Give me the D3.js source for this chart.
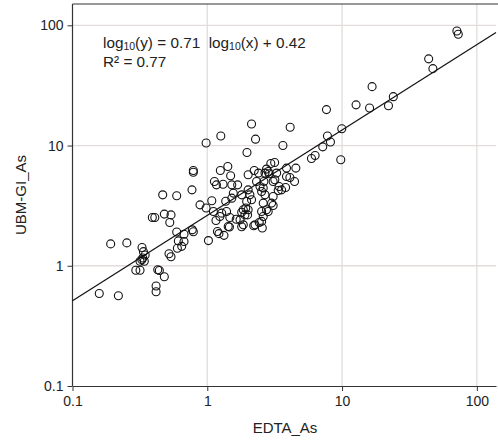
<!DOCTYPE html>
<html><head><meta charset="utf-8">
<script src="https://cdn.jsdelivr.net/npm/d3@7"></script>
<style>
body{margin:0;background:#fff;}
svg{display:block;font-family:"Liberation Sans",Arial,sans-serif;}
</style></head>
<body><svg id="c" width="498" height="441"></svg>
<script>
const edtaAs = [71.1,72.8,43.9,47.2,16.7,24.0,22.1,16.0,12.7,7.66,4.12,9.95,7.79,8.20,7.19,3.64,6.31,5.93,9.78,3.16,2.96,3.87,4.54,4.10,4.44,3.81,3.41,3.36,
2.13,1.26,2.28,0.98,1.97,0.788,0.788,1.42,1.25,1.49,1.13,1.31,1.68,1.52,2.01,2.23,2.40,2.75,2.68,2.83,3.27,3.17,3.87,2.88,3.08,
0.467,0.593,0.770,2.32,2.46,2.60,2.53,3.56,2.01,2.07,1.80,1.56,1.52,2.68,3.08,3.00,1.96,2.13,0.883,0.98,1.08,1.37,
0.391,0.408,0.480,0.538,0.527,1.11,1.28,1.39,1.24,1.16,1.47,1.64,1.80,1.99,1.93,1.85,2.01,1.90,2.60,2.75,2.53,2.83,2.60,2.53,3.08,
2.21,2.56,2.43,1.80,1.46,1.75,1.19,1.22,1.33,1.02,0.593,0.672,0.774,0.788,0.610,0.672,0.600,0.646,0.520,0.538,
0.192,0.253,0.328,0.336,0.346,0.332,0.327,0.341,0.317,0.295,0.317,0.429,0.441,0.480,0.417,0.417,0.158,0.219,2.26,1.43,1.85,1.17,2.63];
const ubmAs = [89.8,84.3,52.6,43.6,30.9,25.5,21.4,20.5,21.8,19.9,14.2,13.8,12.0,10.7,9.75,10.0,8.26,7.80,7.61,7.22,7.08,6.49,6.49,5.42,5.02,4.48,4.56,4.23,
15.1,12.0,11.3,10.5,8.75,6.20,5.99,6.69,6.20,5.60,5.02,4.76,4.71,4.71,5.71,6.20,5.90,6.37,5.90,6.08,5.90,5.19,5.53,5.82,5.02,
3.89,3.82,4.28,5.02,4.56,4.43,4.15,4.28,4.28,3.89,3.89,4.02,3.65,3.89,3.77,3.32,3.42,3.54,3.21,3.02,3.47,3.44,
2.52,2.52,2.69,2.65,2.29,2.83,2.74,2.83,2.57,2.38,2.52,2.44,2.79,2.65,3.02,2.92,2.92,2.65,3.32,2.92,2.83,2.83,2.57,2.34,3.17,
2.15,2.06,2.29,2.11,2.10,2.41,1.93,1.85,1.79,1.62,1.91,1.83,1.99,1.92,1.61,1.59,1.40,1.45,1.26,1.19,
1.52,1.55,1.42,1.31,1.23,1.16,1.12,1.09,1.09,0.918,0.918,0.926,0.914,0.810,0.678,0.608,0.588,0.563,2.19,2.12,2.19,4.71,5.02];
const tickValues = [0.1, 1, 10, 100];
const tickLabels = ["0.1", "1", "10", "100"];
const fitSlope = 0.71, fitIntercept = 0.42, rSquared = 0.77;
const xTitle = "EDTA_As", yTitle = "UBM-GI_As";

const svg = d3.select("#c");
const L = 72.5, R = 496, T = 4, B = 386;
const x = d3.scaleLog().domain([0.1, 138.7]).range([L, R]);
const y = d3.scaleLog().domain([0.1, 150.4]).range([B, T]);
const gridColor = "#e2dcda", axisColor = "#333";

// grid
svg.append("g").selectAll("line").data(tickValues.slice(1)).join("line")
  .attr("x1", d => x(d)).attr("x2", d => x(d)).attr("y1", T).attr("y2", B)
  .attr("stroke", gridColor).attr("stroke-width", 1.3);
svg.append("g").selectAll("line").data(tickValues.slice(1)).join("line")
  .attr("y1", d => y(d)).attr("y2", d => y(d)).attr("x1", L).attr("x2", R)
  .attr("stroke", gridColor).attr("stroke-width", 1.3);

// top border
svg.append("line").attr("x1", L).attr("x2", 498).attr("y1", T).attr("y2", T)
  .attr("stroke", axisColor).attr("stroke-width", 1.2);

const fmt = d => tickLabels[tickValues.indexOf(d)];
const xa = svg.append("g").attr("transform", `translate(0,${B})`)
  .call(d3.axisBottom(x).tickValues(tickValues).tickFormat(fmt).tickSize(5).tickSizeOuter(0));
const ya = svg.append("g").attr("transform", `translate(${L},0)`)
  .call(d3.axisLeft(y).tickValues(tickValues).tickFormat(fmt).tickSize(5).tickSizeOuter(0));
[xa, ya].forEach(a => {
  a.select(".domain").attr("stroke", axisColor).attr("stroke-width", 1.2);
  a.selectAll(".tick line").attr("stroke", axisColor);
  a.selectAll("text").attr("font-size", 14).attr("fill", "#222").attr("font-family", "Liberation Sans, Arial, sans-serif");
});
xa.selectAll("text").attr("dy", "0.95em").attr("y", 7);
ya.selectAll("text").attr("x", -9);
ya.select(".domain").attr("d", `M0,${B}V${T}`);

// regression line
const xd = x.domain();
svg.append("line")
  .attr("x1", x(xd[0])).attr("y1", y(Math.pow(10, fitSlope * Math.log10(xd[0]) + fitIntercept)))
  .attr("x2", x(xd[1])).attr("y2", y(Math.pow(10, fitSlope * Math.log10(xd[1]) + fitIntercept)))
  .attr("stroke", "#111").attr("stroke-width", 1.2);

// points
svg.append("g").selectAll("circle").data(edtaAs.map((v, i) => [v, ubmAs[i]])).join("circle")
  .attr("cx", d => x(d[0])).attr("cy", d => y(d[1])).attr("r", 4)
  .attr("fill", "none").attr("stroke", "#111").attr("stroke-width", 1.1);

// equation
const eq = svg.append("text").attr("x", 103).attr("y", 48).attr("font-size", 15.3).attr("fill", "#222");
eq.append("tspan").text("log");
eq.append("tspan").attr("font-size", 10.5).attr("dy", 2).text("10");
eq.append("tspan").attr("dy", -2).text(`(y) = ${fitSlope.toFixed(2)}\u00a0 log`);
eq.append("tspan").attr("font-size", 10.5).attr("dy", 2).text("10");
eq.append("tspan").attr("dy", -2).text(`(x) + ${fitIntercept.toFixed(2)}`);
svg.append("text").attr("x", 103).attr("y", 67).attr("font-size", 15.3).attr("fill", "#222")
  .text(`R\u00b2 = ${rSquared.toFixed(2)}`);

// axis titles
svg.append("text").attr("x", 285).attr("y", 433).attr("text-anchor", "middle")
  .attr("font-size", 15).attr("fill", "#222").text(xTitle);
svg.append("text").attr("transform", "translate(26,195) rotate(-90)").attr("text-anchor", "middle")
  .attr("font-size", 15).attr("fill", "#222").text(yTitle);
</script></body></html>
